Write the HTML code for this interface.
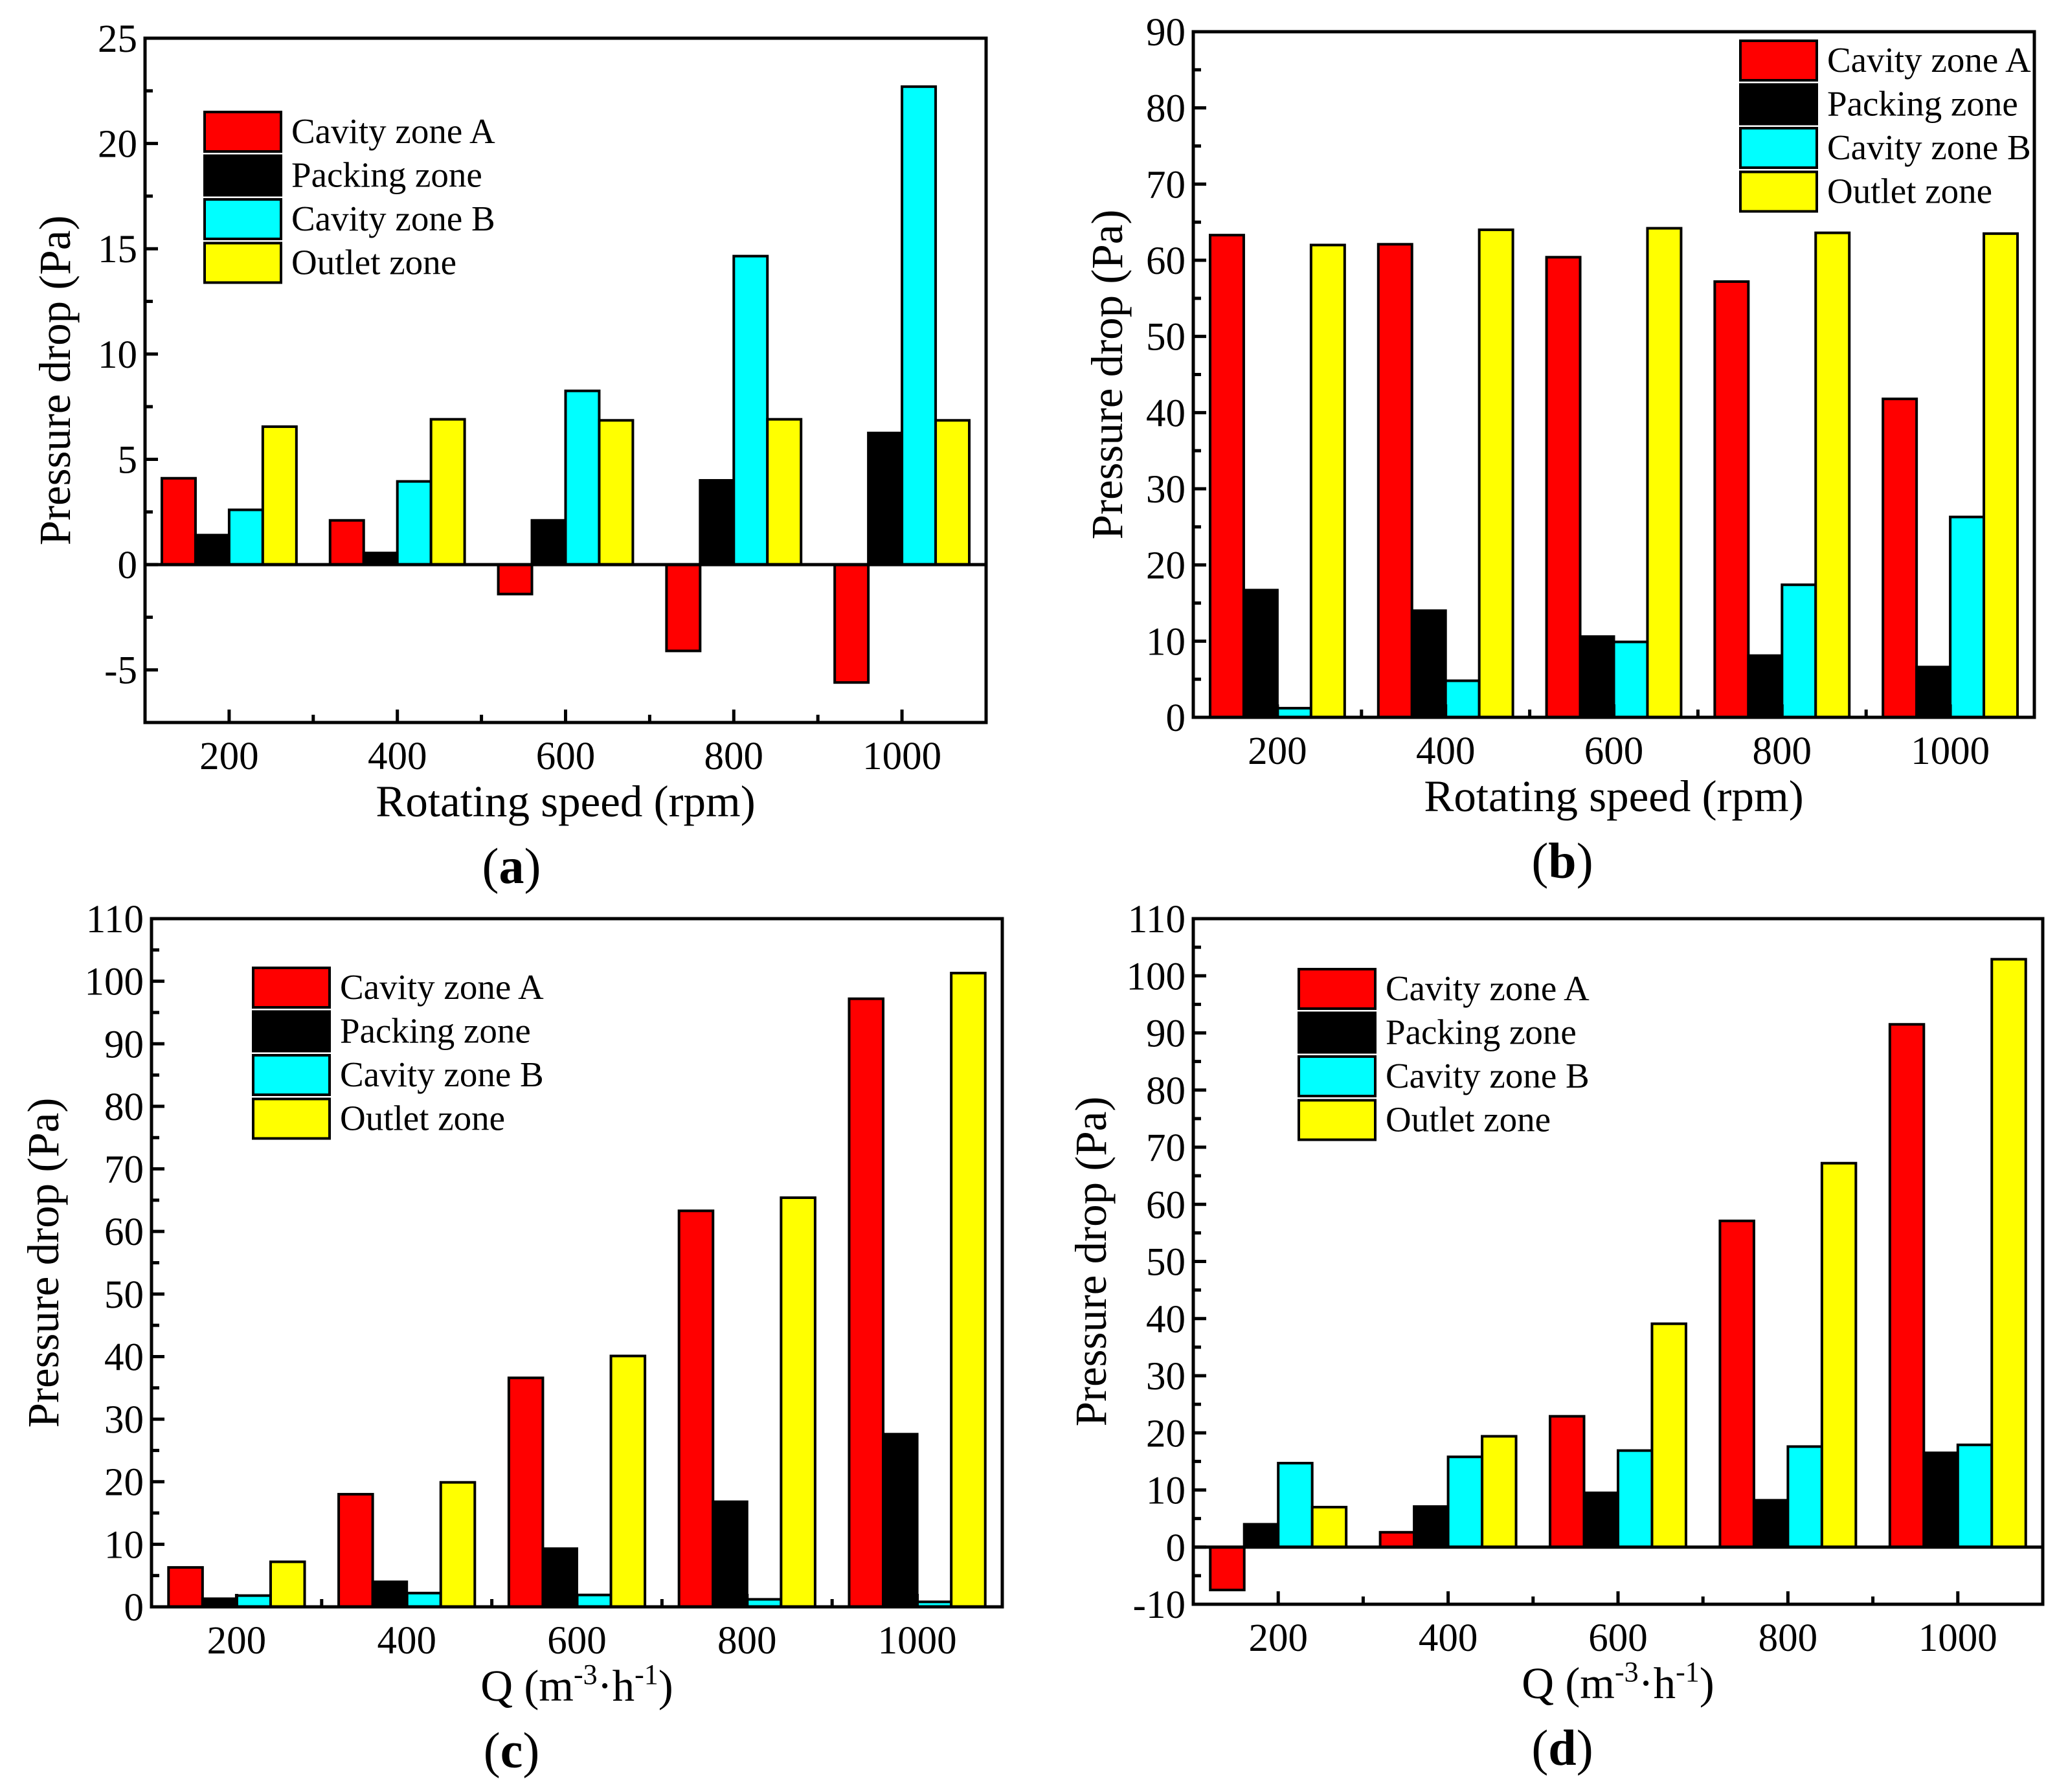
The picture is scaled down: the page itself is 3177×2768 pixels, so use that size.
<!DOCTYPE html>
<html><head><meta charset="utf-8"><style>
html,body{margin:0;padding:0;background:#fff;}
svg{display:block;font-family:"Liberation Serif",serif;}
</style></head><body>
<svg id="fig" width="3177" height="2768" viewBox="0 0 3177 2768" xmlns="http://www.w3.org/2000/svg"></svg>
<script>
const categories = [200, 400, 600, 800, 1000];
const seriesNames = ["Cavity zone A", "Packing zone", "Cavity zone B", "Outlet zone"];
const aCavityA = [4.1, 2.1, -1.4, -4.1, -5.6];
const aPacking = [1.4, 0.55, 2.1, 4.0, 6.25];
const aCavityB = [2.6, 3.95, 8.25, 14.65, 22.7];
const aOutlet = [6.55, 6.9, 6.85, 6.9, 6.85];
const bCavityA = [63.3, 62.1, 60.4, 57.2, 41.8];
const bPacking = [16.7, 14.0, 10.6, 8.1, 6.6];
const bCavityB = [1.2, 4.8, 9.9, 17.4, 26.3];
const bOutlet = [62.0, 64.0, 64.2, 63.6, 63.5];
const cCavityA = [6.3, 18.0, 36.6, 63.3, 97.2];
const cPacking = [1.3, 4.0, 9.3, 16.8, 27.6];
const cCavityB = [1.8, 2.2, 1.9, 1.2, 0.8];
const cOutlet = [7.2, 19.9, 40.1, 65.4, 101.3];
const dCavityA = [-7.5, 2.6, 22.9, 57.1, 91.5];
const dPacking = [4.0, 7.1, 9.5, 8.2, 16.5];
const dCavityB = [14.7, 15.8, 16.9, 17.6, 17.9];
const dOutlet = [7.0, 19.4, 39.1, 67.2, 102.9];
const aTicks = [-5, 0, 5, 10, 15, 20, 25];
const bTicks = [0, 10, 20, 30, 40, 50, 60, 70, 80, 90];
const cTicks = [0, 10, 20, 30, 40, 50, 60, 70, 80, 90, 100, 110];
const dTicks = [-10, 0, 10, 20, 30, 40, 50, 60, 70, 80, 90, 100, 110];

const colors = ["#ff0000", "#000000", "#00ffff", "#ffff00"];
const NS = "http://www.w3.org/2000/svg";
const svg = document.getElementById("fig");
function mk(tag, attrs, parent) {
  const e = document.createElementNS(NS, tag);
  for (const k in attrs) e.setAttribute(k, attrs[k]);
  parent.appendChild(e);
  return e;
}
function panel(p) {
  const g = mk("g", {}, svg);
  
  
  const xs = v => p.L + (v - 100) / 1000 * (p.R - p.L);
  const ys = v => p.B - (v - p.ymin) / (p.ymax - p.ymin) * (p.B - p.T);
  const bw = 40;
  p.series.forEach((vals, si) => {
    vals.forEach((v, ci) => {
      const x0 = xs(categories[ci] - 80 + si * bw), x1 = xs(categories[ci] - 80 + (si + 1) * bw);
      const y0 = ys(0), y1 = ys(v);
      const r = mk("rect", {x: x0, y: Math.min(y0, y1), width: x1 - x0, height: Math.abs(y1 - y0), fill: colors[si], stroke: "#000", "stroke-width": 4}, g);
      
      
    });
  });
  if (p.ymin < 0) mk("line", {x1: p.L, x2: p.R, y1: ys(0), y2: ys(0), stroke: "#000", "stroke-width": 5}, g);
  const fr = mk("rect", {x: p.L, y: p.T, width: p.R - p.L, height: p.B - p.T, fill: "none", stroke: "#000", "stroke-width": 5}, g);
  
  
  p.ticks.forEach((t, i) => {
    const y = ys(t);
    mk("line", {x1: p.L, x2: p.L + 20, y1: y, y2: y, stroke: "#000", "stroke-width": 5}, g);
    if (i < p.ticks.length - 1) {
      const ym = ys(t + (p.ticks[1] - p.ticks[0]) / 2);
      mk("line", {x1: p.L, x2: p.L + 12, y1: ym, y2: ym, stroke: "#000", "stroke-width": 5}, g);
    }
    const tx = mk("text", {x: p.L - 12, y: y + 21, "text-anchor": "end", "font-size": 61}, g);
    tx.textContent = t;
    
    
  });
  categories.forEach(c => {
    const x = xs(c);
    mk("line", {x1: x, x2: x, y1: p.B, y2: p.B - 20, stroke: "#000", "stroke-width": 5}, g);
    const tx = mk("text", {x: x, y: p.B + 72, "text-anchor": "middle", "font-size": 61}, g);
    tx.textContent = c;
    
    
  });
  [300, 500, 700, 900].forEach(c => {
    const x = xs(c);
    mk("line", {x1: x, x2: x, y1: p.B, y2: p.B - 12, stroke: "#000", "stroke-width": 5}, g);
  });
  const cx = (p.L + p.R) / 2;
  const xt = mk("text", {x: cx, y: p.B + 145, "text-anchor": "middle", "font-size": 69}, g);
  xt.innerHTML = p.xtitle;
  
  
  const cy = (p.T + p.B) / 2;
  const yt = mk("text", {x: 0, y: 0, "text-anchor": "middle", "font-size": 69, transform: `translate(${p.yx},${cy}) rotate(-90)`}, g);
  yt.textContent = "Pressure drop (Pa)";
  
  
  const pl = mk("text", {x: p.labX, y: p.B + 248, "text-anchor": "middle", "font-size": 78}, g);
  pl.innerHTML = '(<tspan font-weight="bold">' + p.id + '</tspan>)';
  
  
  seriesNames.forEach((n, i) => {
    const y = p.legY + i * 67.5;
    const r = mk("rect", {x: p.legX, y: y, width: 118, height: 61, fill: colors[i], stroke: "#000", "stroke-width": 4}, g);
    
    
    const t = mk("text", {x: p.legX + 134, y: y + 48, "font-size": 55}, g);
    t.textContent = n;
    
    
  });
}
const qTitle = 'Q (m<tspan dy="-26" font-size="44">-3</tspan><tspan dy="26">·h</tspan><tspan dy="-26" font-size="44">-1</tspan><tspan dy="26">)</tspan>';
panel({id: "a", L: 224, R: 1523, T: 59, B: 1116, ymin: -7.5, ymax: 25, ticks: aTicks, series: [aCavityA, aPacking, aCavityB, aOutlet], xtitle: "Rotating speed (rpm)", yx: 108, legX: 316, legY: 173, labX: 790});
panel({id: "b", L: 1843, R: 3142, T: 49, B: 1108, ymin: 0, ymax: 90, ticks: bTicks, series: [bCavityA, bPacking, bCavityB, bOutlet], xtitle: "Rotating speed (rpm)", yx: 1733, legX: 2688, legY: 63, labX: 2413});
panel({id: "c", L: 234, R: 1548, T: 1419, B: 2482, ymin: 0, ymax: 110, ticks: cTicks, series: [cCavityA, cPacking, cCavityB, cOutlet], xtitle: qTitle, yx: 90, legX: 391, legY: 1495, labX: 790});
panel({id: "d", L: 1843, R: 3155, T: 1419, B: 2478, ymin: -10, ymax: 110, ticks: dTicks, series: [dCavityA, dPacking, dCavityB, dOutlet], xtitle: qTitle, yx: 1708, legX: 2006, legY: 1497, labX: 2413});
</script>
</body></html>
